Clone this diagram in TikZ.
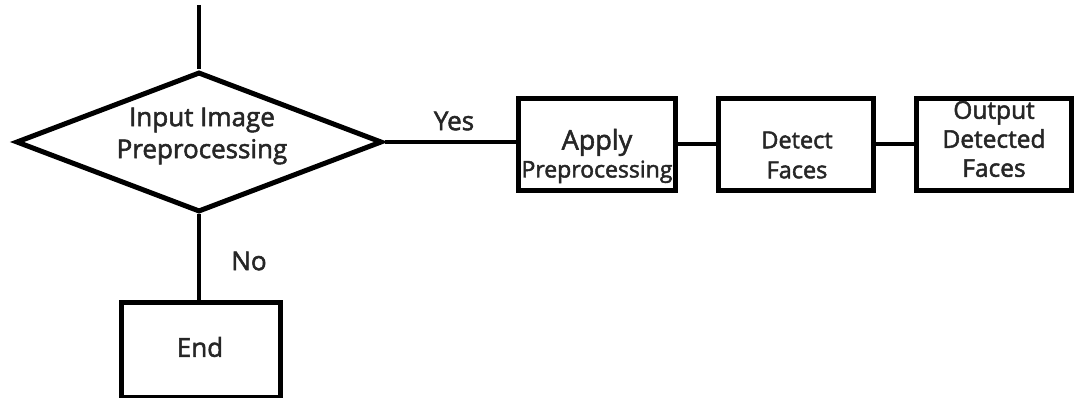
\documentclass[tikz,border=0pt]{standalone}
\usepackage{fontspec}
\setmainfont{Open Sans}[FakeBold=2]
\usetikzlibrary{shapes.geometric}
\begin{document}
\begin{tikzpicture}[x=1pt,y=-1pt,
  box/.style={draw, line width=4.5pt, rectangle, inner sep=0pt, align=center},
  link/.style={line width=4pt},
  lbl/.style={font=\fontsize{26}{32}\selectfont, align=center, inner sep=0pt, text=black!85}]
\useasboundingbox[fill=white] (0,0) rectangle (1076,398);

% decision diamond
\node[draw, diamond, line width=5pt, minimum width=366pt, minimum height=140pt,
      inner sep=0pt] (dia) at (199,142) {};
\node[lbl] (diatext) at (202,136) {Input Image\\Preprocessing};

% processing steps
\node[box, minimum width=157pt, minimum height=92pt] (apply) at (597,144.5) {};
\node[lbl, font=\fontsize{23}{28}\selectfont] (applytext) at (597,156)
  {{\fontsize{27}{28}\selectfont Apply}\\Preprocessing};
\node[box, minimum width=155pt, minimum height=92pt] (detect) at (796,144.5) {};
\node[lbl, font=\fontsize{23.5}{30}\selectfont] (detecttext) at (797,155) {Detect\\Faces};
\node[box, minimum width=155pt, minimum height=92pt] (output) at (994,144.5) {};
\node[lbl, font=\fontsize{24.5}{29}\selectfont] (outputtext) at (994,139) {Output\\Detected\\Faces};

% terminal
\node[box, minimum width=159pt, minimum height=95pt] (endn) at (201,350) {};
\node[lbl] (endtext) at (200,347) {End};

% incoming flow
\coordinate (start) at (199,5);
\draw[line width=3.5pt] (start) -- (dia.north);

% connectors
\draw[link] (dia.east) -- (apply.west |- dia.east);
\draw[link] (apply.east) -- (detect.west);
\draw[link] (detect.east) -- (output.west);
\draw[line width=3.5pt] (dia.south) -- (endn.north -| dia.south);

% branch labels
\node[lbl] (yes) at (454,121) {Yes};
\node[lbl] (no) at (249,261) {No};
\end{tikzpicture}
\end{document}
